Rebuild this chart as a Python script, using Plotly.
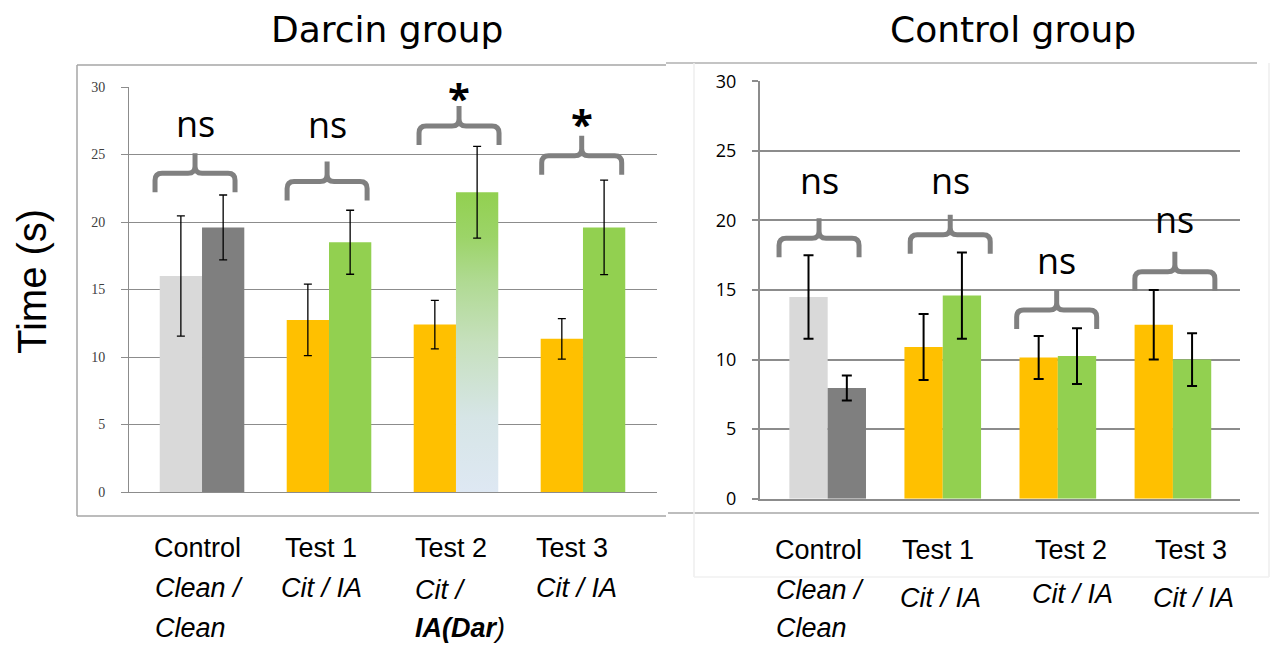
import plotly.graph_objects as go

W, H = 1280, 647

# ---------------- data ----------------
categories = ["Control", "Test 1", "Test 2", "Test 3"]
group_pos = [1, 2, 3, 4]

darcin_first = [16.0, 12.75, 12.4, 11.35]
darcin_first_err = [4.45, 2.65, 1.8, 1.5]
darcin_second = [19.6, 18.5, 22.2, 19.6]
darcin_second_err = [2.4, 2.37, 3.4, 3.5]

control_first = [14.5, 10.9, 10.15, 12.5]
control_first_err = [3.0, 2.37, 1.55, 2.5]
control_second = [7.95, 14.6, 10.25, 10.0]
control_second_err = [0.9, 3.1, 2.0, 1.9]

darcin_sig = ["ns", "ns", "*", "*"]
control_sig = ["ns", "ns", "ns", "ns"]

yticks = [0, 5, 10, 15, 20, 25, 30]

darcin_labels = [
    ["Control", "<i>Clean /</i>", "<i>Clean</i>"],
    ["Test 1", "<i>Cit / IA</i>"],
    ["Test 2", "<i>Cit /</i>", "<b><i>IA(Dar</i></b><i>)</i>"],
    ["Test 3", "<i>Cit / IA</i>"],
]
control_labels = [
    ["Control", "<i>Clean /</i>", "<i>Clean</i>"],
    ["Test 1", "<i>Cit / IA</i>"],
    ["Test 2", "<i>Cit / IA</i>"],
    ["Test 3", "<i>Cit / IA</i>"],
]

# ---------------- styling / layout positions ----------------
GRAY_L = "#d9d9d9"
GRAY_D = "#7f7f7f"
ORANGE = "#ffc000"
GREEN = "#92d050"
BAR_W = 0.333
HALF = BAR_W / 2

first_colors = [GRAY_L, ORANGE, ORANGE, ORANGE]
darcin_second_colors = [GRAY_D, GREEN, "rgba(0,0,0,0)", GREEN]
control_second_colors = [GRAY_D, GREEN, GREEN, GREEN]
gradient_index = 2  # Test 2 second bar in darcin panel drawn with a gradient

# brace/significance placement (data coords): centre x, tip y, text y
darcin_brace_x = [0.945, 1.985, 3.024, 3.99]
darcin_brace_y = [22.2, 21.6, 25.7, 23.5]
darcin_text_y = [27.26, 27.2, 29.25, 27.3]
control_brace_x = [0.925, 2.065, 2.99, 4.017]
control_brace_y = [17.35, 17.6, 12.2, 14.95]
control_text_y = [22.9, 22.9, 17.09, 20.1]

# category label placement (pixels): x for each line, y for each line
darcin_label_x = [[152, 153, 153], [283, 279], [413, 413, 413], [534, 534]]
darcin_label_y = [[548, 588, 628], [548, 588], [548, 590, 628], [548, 588]]
control_label_x = [[773, 774, 774], [900, 898], [1033, 1030], [1153, 1151]]
control_label_y = [[550, 590, 628], [550, 598], [550, 594], [550, 598]]

# page offset of the plot inside the browser page (body margin)
OX, OY = 8, 8


def px(x):
    return (x - OX) / W


def py(y):
    return 1 - (y - OY) / H


fig = go.Figure()


def add_panel(xa, ya, first, second, second_colors):
    x_first = [g - HALF for g in group_pos]
    x_second = [g + HALF for g in group_pos]
    fig.add_trace(go.Bar(x=x_first, y=first, width=BAR_W, marker=dict(color=first_colors, line=dict(width=0)),
                         xaxis=xa, yaxis=ya, showlegend=False, hoverinfo="skip"))
    fig.add_trace(go.Bar(x=x_second, y=second, width=BAR_W, marker=dict(color=second_colors, line=dict(width=0)),
                         xaxis=xa, yaxis=ya, showlegend=False, hoverinfo="skip"))
    return x_first, x_second


# Darcin panel
xf, xs = add_panel("x", "y", darcin_first, darcin_second, darcin_second_colors)
gx0 = xs[gradient_index] - HALF
gx1 = xs[gradient_index] + HALF
gv = darcin_second[gradient_index]
fig.add_trace(go.Scatter(
    x=[gx0, gx1, gx1, gx0, gx0], y=[0, 0, gv, gv, 0], mode="lines", fill="toself",
    line=dict(width=0, color="rgba(0,0,0,0)"),
    fillgradient=dict(type="vertical", start=0, stop=gv,
                      colorscale=[[0, "#dee8f3"], [0.25, "#d6e5e6"], [0.5, "#c6e0bd"],
                                  [0.7, "#b0da93"], [0.85, "#9cd468"], [1, GREEN]]),
    xaxis="x", yaxis="y", showlegend=False, hoverinfo="skip"))
for xx, yy, ee in [(xf, darcin_first, darcin_first_err), (xs, darcin_second, darcin_second_err)]:
    fig.add_trace(go.Scatter(x=xx, y=yy, mode="markers", marker=dict(size=1, color="rgba(0,0,0,0)"),
                             error_y=dict(type="data", array=ee, color="black", thickness=1.3, width=4),
                             xaxis="x", yaxis="y", showlegend=False, hoverinfo="skip"))

# Control panel
xf2, xs2 = add_panel("x2", "y2", control_first, control_second, control_second_colors)
for xx, yy, ee in [(xf2, control_first, control_first_err), (xs2, control_second, control_second_err)]:
    fig.add_trace(go.Scatter(x=xx, y=yy, mode="markers", marker=dict(size=1, color="rgba(0,0,0,0)"),
                             error_y=dict(type="data", array=ee, color="black", thickness=2, width=5),
                             xaxis="x2", yaxis="y2", showlegend=False, hoverinfo="skip"))


def brace_path(w=80, h=39, mid=19, r=7):
    hw = w / 2
    return (f"M {-hw},0 L {-hw},{mid - r} Q {-hw},{mid} {-hw + r},{mid} L {-r},{mid} "
            f"Q 0,{mid} 0,{mid + r} L 0,{h} "
            f"M 0,{mid + r} Q 0,{mid} {r},{mid} L {hw - r},{mid} Q {hw},{mid} {hw},{mid - r} L {hw},0")


shapes = []
annotations = []

for xr, yr, bx, by, ty, sig in [("x", "y", darcin_brace_x, darcin_brace_y, darcin_text_y, darcin_sig),
                                 ("x2", "y2", control_brace_x, control_brace_y, control_text_y, control_sig)]:
    for cx, cy, tyy, s in zip(bx, by, ty, sig):
        shapes.append(dict(type="path", xref=xr, yref=yr, xsizemode="pixel", ysizemode="pixel",
                           xanchor=cx, yanchor=cy, path=brace_path(),
                           line=dict(color="#808080", width=5)))
        if s == "*":
            annotations.append(dict(xref=xr, yref=yr, x=cx, y=tyy, text="<b>*</b>", showarrow=False,
                                    font=dict(family="Open Sans", size=40, color="black"),
                                    xanchor="center", yanchor="middle"))
        else:
            annotations.append(dict(xref=xr, yref=yr, x=cx, y=tyy, text=s, showarrow=False,
                                    font=dict(family="Open Sans", size=36, color="black"),
                                    xanchor="center", yanchor="middle"))

LABEL_FONT = dict(family="Liberation Sans Narrow, Arial Narrow, Liberation Sans", size=27, color="black")
for labels, lx, ly in [(darcin_labels, darcin_label_x, darcin_label_y),
                       (control_labels, control_label_x, control_label_y)]:
    for lines, xs_, ys_ in zip(labels, lx, ly):
        for t, x_, y_ in zip(lines, xs_, ys_):
            annotations.append(dict(xref="paper", yref="paper", x=px(x_), y=py(y_), text=t,
                                    showarrow=False, xanchor="left", yanchor="middle", font=LABEL_FONT))

TITLE_FONT = dict(family="DejaVu Sans", size=36, color="black")
annotations.append(dict(xref="paper", yref="paper", x=px(387), y=1, yanchor="top", borderpad=0,
                        text="Darcin group", showarrow=False, xanchor="center", font=TITLE_FONT))
annotations.append(dict(xref="paper", yref="paper", x=px(1013), y=1, yanchor="top", borderpad=0,
                        text="Control group", showarrow=False, xanchor="center", font=TITLE_FONT))
annotations.append(dict(xref="paper", yref="paper", x=px(32), y=py(282), text="Time (s)",
                        showarrow=False, xanchor="center", yanchor="middle", textangle=-90,
                        font=dict(family="Liberation Sans", size=40, color="black")))


def line(x0, y0, x1, y1, color, width):
    return dict(type="line", xref="paper", yref="paper", x0=px(x0), y0=py(y0), x1=px(x1), y1=py(y1),
                line=dict(color=color, width=width), layer="below")


shapes += [
    line(77, 65, 77, 516, "#a6a6a6", 1.5),
    line(77, 65, 666, 65, "#a6a6a6", 1.5),
    line(77, 516, 666, 516, "#a6a6a6", 1.5),
    line(666, 63, 1257, 63, "#c4c4c4", 2),
    line(668, 513, 1259, 513, "#bdbdbd", 2),
    line(694, 63, 694, 577, "#eeeeee", 1.5),
    line(1269, 63, 1269, 577, "#eeeeee", 1.5),
    line(694, 577, 1269, 577, "#f0f0f0", 1.5),
]

fig.update_layout(
    width=W, height=H, margin=dict(l=0, r=0, t=0, b=0, pad=0, autoexpand=False),
    paper_bgcolor="white", plot_bgcolor="rgba(0,0,0,0)",
    barmode="overlay", showlegend=False,
    shapes=shapes, annotations=annotations,
    xaxis=dict(domain=[px(129), px(657)], range=[0.425, 4.583], showticklabels=False, ticks="",
               showgrid=False, zeroline=False, showline=True, linecolor="#8c8c8c", linewidth=1,
               fixedrange=True),
    yaxis=dict(domain=[py(492), py(87)], range=[0, 30], tickvals=yticks, ticks="outside", ticklen=7,
               tickcolor="#8c8c8c", tickwidth=1, showgrid=True, gridcolor="#8c8c8c", gridwidth=1,
               zeroline=False, showline=True, linecolor="#8c8c8c", linewidth=1,
               tickfont=dict(family="Liberation Serif", size=14, color="#404040"),
               ticklabelstandoff=13, anchor="x", fixedrange=True),
    xaxis2=dict(domain=[px(760), px(1240)], range=[0.412, 4.583], showticklabels=False, ticks="",
                showgrid=False, zeroline=False, showline=True, linecolor="#8c8c8c", linewidth=2,
                anchor="y2", fixedrange=True),
    yaxis2=dict(domain=[py(498.7), py(81.3)], range=[0, 30], tickvals=yticks, ticks="outside", ticklen=6,
                tickcolor="#8c8c8c", tickwidth=2, showgrid=True, gridcolor="#8c8c8c", gridwidth=2,
                zeroline=False, showline=True, linecolor="#8c8c8c", linewidth=2,
                tickfont=dict(family="Open Sans", size=18, color="black"),
                ticklabelstandoff=12, anchor="x2", fixedrange=True),
)

fig.write_html("out.html")
